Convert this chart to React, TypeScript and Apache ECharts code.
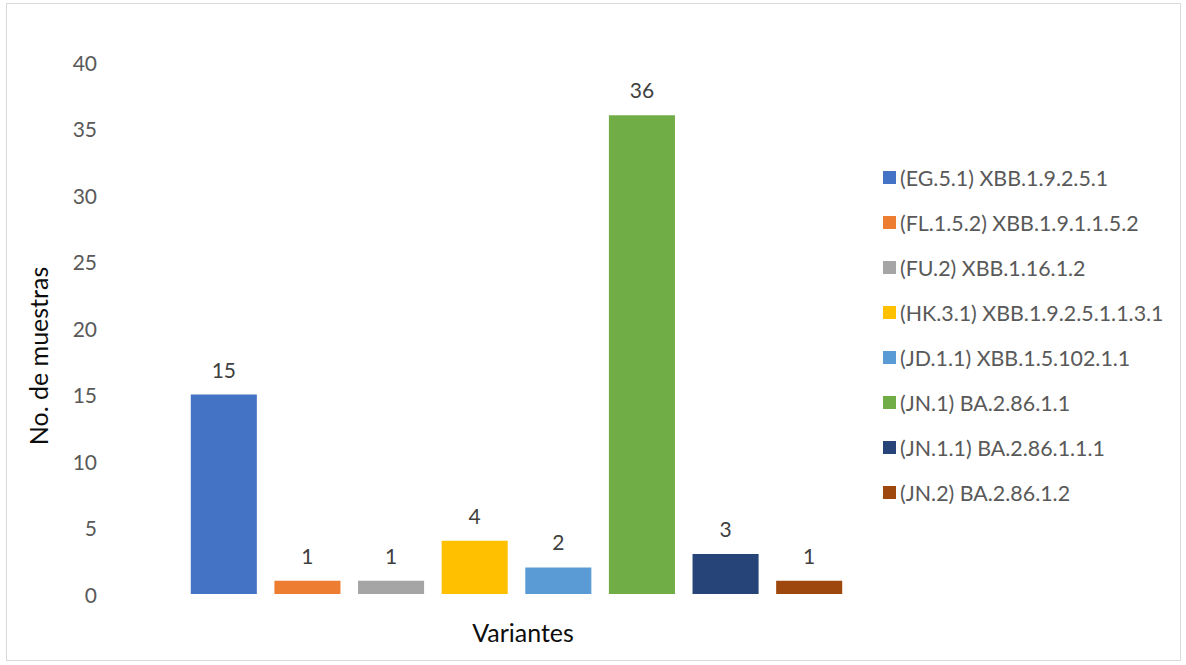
import React, { useEffect, useRef } from "react";
import * as echarts from "echarts";

const variants = [
  "(EG.5.1) XBB.1.9.2.5.1",
  "(FL.1.5.2) XBB.1.9.1.1.5.2",
  "(FU.2) XBB.1.16.1.2",
  "(HK.3.1) XBB.1.9.2.5.1.1.3.1",
  "(JD.1.1) XBB.1.5.102.1.1",
  "(JN.1) BA.2.86.1.1",
  "(JN.1.1) BA.2.86.1.1.1",
  "(JN.2) BA.2.86.1.2",
];
const counts = [15, 1, 1, 4, 2, 36, 3, 1];
const colors = ["#4472c4", "#ed7d31", "#a5a5a5", "#ffc000", "#5b9bd5", "#70ad47", "#264478", "#9e480e"];
const yTicks = { min: 0, max: 40, interval: 5 };
const xTitle = "Variantes";
const yTitle = "No. de muestras";

const FONT = "Lato, 'Open Sans', sans-serif";

export default function App() {
  const ref = useRef<HTMLDivElement>(null);
  useEffect(() => {
    const chart = echarts.init(ref.current!, undefined, { renderer: "svg" });
    const series = variants.map((name, i) => ({
      name,
      type: "bar",
      stack: "all",
      barCategoryGap: "21%",
      itemStyle: { color: colors[i] },
      label: {
        show: true,
        position: "top",
        distance: 15,
        color: "#404040",
        fontSize: 21,
        fontFamily: FONT,
      },
      data: counts.map((v, j) => (j === i ? v : "-")),
    }));
    const titleStyle = { fill: "#0d0d0d", fontSize: 25, fontFamily: FONT, align: "center", verticalAlign: "middle" };
    chart.setOption({
      animation: false,
      backgroundColor: "#ffffff",
      graphic: [
        {
          type: "rect",
          shape: { x: 6.5, y: 3.5, width: 1174, height: 657 },
          style: { fill: "none", stroke: "#d9d9d9", lineWidth: 1 },
          silent: true,
        },
        {
          type: "text",
          x: 523,
          y: 632,
          style: { text: xTitle, ...titleStyle },
          silent: true,
        },
        {
          type: "text",
          x: 38,
          y: 356,
          rotation: Math.PI / 2,
          style: { text: yTitle, ...titleStyle },
          silent: true,
        },
      ],
      grid: { left: 182, right: 335, top: 62, bottom: 71 },
      legend: {
        orient: "vertical",
        left: 878,
        top: 162,
        itemWidth: 13,
        itemHeight: 13,
        itemGap: 24,
        icon: "rect",
        textStyle: { color: "#595959", fontSize: 21.4, fontFamily: FONT, padding: [0, 0, 0, -1] },
        data: variants,
      },
      xAxis: {
        type: "category",
        data: variants,
        axisLine: { show: false },
        axisTick: { show: false },
        axisLabel: { show: false },
      },
      yAxis: {
        type: "value",
        min: yTicks.min,
        max: yTicks.max,
        interval: yTicks.interval,
        splitLine: { show: false },
        axisLine: { show: false },
        axisTick: { show: false },
        axisLabel: { color: "#595959", fontSize: 21, fontFamily: FONT, margin: 85 },
      },
      series,
    });
    return () => chart.dispose();
  }, []);
  return (
    <div
      ref={ref}
      style={{ position: "fixed", left: 0, top: 0, width: 1186, height: 665, background: "#fff" }}
    />
  );
}
